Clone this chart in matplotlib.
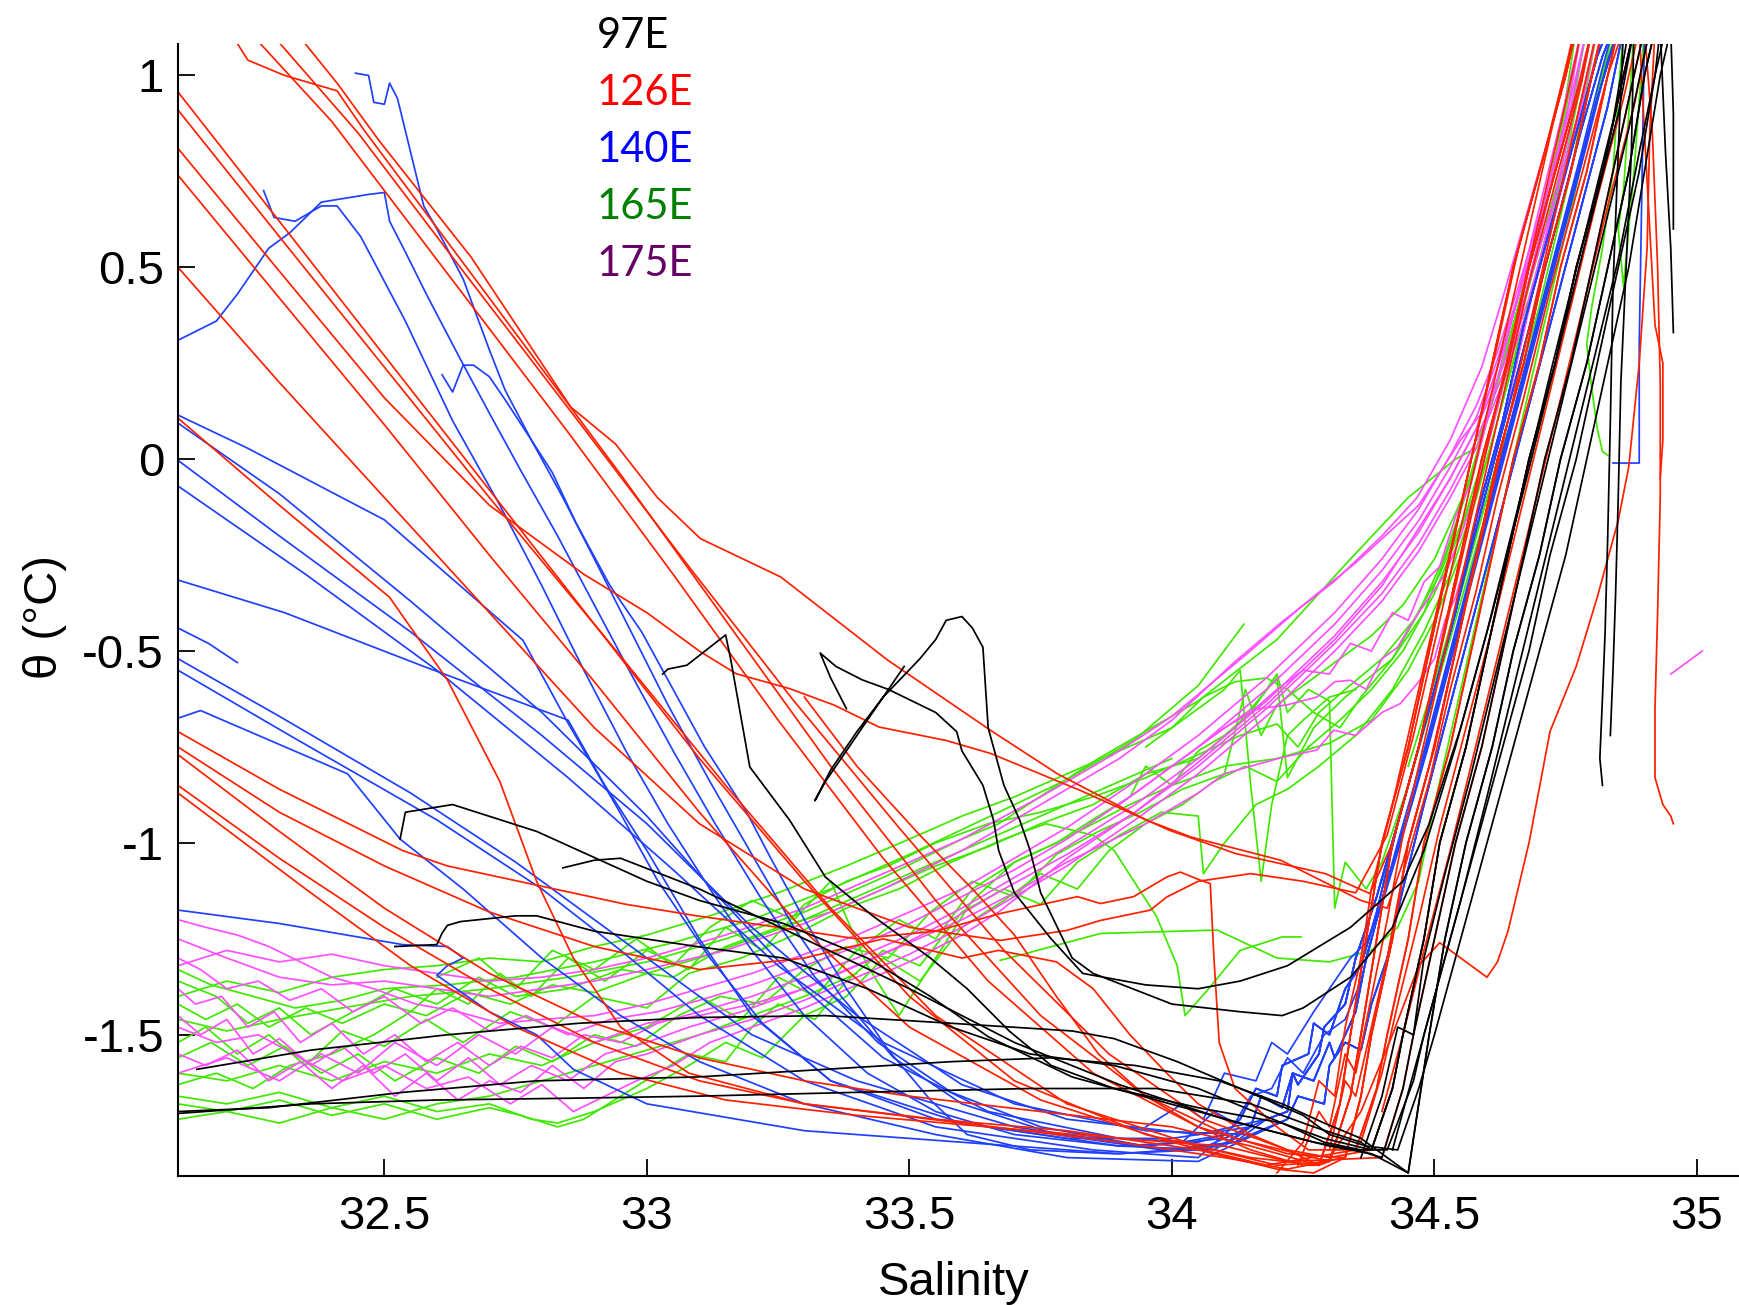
import matplotlib
matplotlib.use('Agg')
import matplotlib.pyplot as plt

# ---------------- deep-water branches (S, theta) read from the bundle on the right ----------------
TAIL_1 = [(34.28,-1.84),(34.32,-1.68),(34.34,-1.50),(34.37,-1.25),(34.40,-1.00),(34.45,-0.75),(34.49,-0.50),(34.53,-0.25),(34.57,0.00),(34.61,0.25),(34.65,0.50),(34.70,0.75),(34.75,1.00),(34.77,1.12)]
TAIL_2 = [(34.30,-1.83),(34.34,-1.66),(34.36,-1.50),(34.39,-1.25),(34.42,-1.00),(34.47,-0.75),(34.51,-0.50),(34.55,-0.25),(34.59,0.00),(34.64,0.25),(34.68,0.50),(34.73,0.75),(34.78,1.00),(34.80,1.12)]
TAIL_3 = [(34.33,-1.82),(34.36,-1.66),(34.38,-1.50),(34.42,-1.25),(34.45,-1.00),(34.50,-0.75),(34.54,-0.50),(34.58,-0.25),(34.62,0.00),(34.67,0.25),(34.71,0.50),(34.76,0.75),(34.80,1.00),(34.82,1.12)]
TAIL_4 = [(34.35,-1.80),(34.39,-1.64),(34.41,-1.50),(34.45,-1.25),(34.48,-1.00),(34.53,-0.75),(34.57,-0.50),(34.61,-0.25),(34.65,0.00),(34.70,0.25),(34.74,0.50),(34.79,0.75),(34.83,1.00),(34.85,1.12)]
TAIL_5 = [(34.38,-1.80),(34.42,-1.64),(34.44,-1.50),(34.48,-1.25),(34.51,-1.00),(34.56,-0.75),(34.60,-0.50),(34.64,-0.25),(34.68,0.00),(34.73,0.25),(34.77,0.50),(34.82,0.75),(34.86,1.00),(34.88,1.12)]
TAIL_6 = [(34.40,-1.82),(34.44,-1.64),(34.46,-1.50),(34.50,-1.25),(34.54,-1.00),(34.59,-0.75),(34.63,-0.50),(34.67,-0.25),(34.71,0.00),(34.76,0.25),(34.80,0.50),(34.84,0.75),(34.88,1.00),(34.90,1.12)]
TAIL_7 = [(34.45,-1.86),(34.47,-1.68),(34.49,-1.50),(34.52,-1.25),(34.56,-1.00),(34.61,-0.75),(34.65,-0.50),(34.70,-0.25),(34.74,0.00),(34.79,0.25),(34.83,0.50),(34.87,0.75),(34.90,1.00),(34.92,1.12)]
TAIL_8 = [(34.41,-1.80),(34.46,-1.62),(34.48,-1.50),(34.53,-1.25),(34.58,-1.00),(34.63,-0.75),(34.68,-0.50),(34.72,-0.25),(34.77,0.00),(34.81,0.25),(34.85,0.50),(34.89,0.75),(34.92,1.00),(34.94,1.12)]
TAIL_9 = [(34.43,-1.80),(34.47,-1.64),(34.50,-1.50),(34.55,-1.25),(34.60,-1.00),(34.65,-0.75),(34.70,-0.50),(34.75,-0.25),(34.79,0.00),(34.83,0.25),(34.87,0.50),(34.90,0.75),(34.93,1.00),(34.95,1.12)]
BTAIL_1 = [(34.15,-1.74),(34.17,-1.66),(34.21,-1.69),(34.23,-1.60),(34.24,-1.63),(34.28,-1.55),(34.29,-1.48),(34.33,-1.42),(34.35,-1.30),(34.39,-1.14),(34.44,-0.90),(34.49,-0.65),(34.54,-0.40),(34.58,-0.15),(34.63,0.10),(34.67,0.35),(34.72,0.60),(34.77,0.85),(34.81,1.05),(34.83,1.12)]
BTAIL_2 = [(34.10,-1.76),(34.13,-1.72),(34.16,-1.64),(34.20,-1.66),(34.21,-1.58),(34.26,-1.55),(34.27,-1.47),(34.30,-1.50),(34.33,-1.38),(34.36,-1.32),(34.39,-1.18),(34.43,-0.95),(34.48,-0.70),(34.53,-0.45),(34.58,-0.18),(34.63,0.08),(34.68,0.34),(34.73,0.60),(34.78,0.86),(34.82,1.05),(34.84,1.12)]
BTAIL_3 = [(34.18,-1.72),(34.22,-1.70),(34.23,-1.60),(34.27,-1.62),(34.30,-1.52),(34.31,-1.56),(34.35,-1.44),(34.37,-1.30),(34.41,-1.10),(34.46,-0.88),(34.51,-0.62),(34.56,-0.36),(34.61,-0.10),(34.66,0.16),(34.71,0.42),(34.76,0.68),(34.81,0.94),(34.85,1.12)]
BTAIL_4 = [(34.22,-1.72),(34.24,-1.66),(34.29,-1.68),(34.30,-1.58),(34.33,-1.52),(34.36,-1.54),(34.38,-1.42),(34.41,-1.30),(34.44,-1.12),(34.48,-0.90),(34.53,-0.64),(34.58,-0.38),(34.63,-0.12),(34.68,0.14),(34.73,0.40),(34.78,0.66),(34.83,0.92),(34.86,1.12)]

# ---------------- 126E (red) ----------------
RED_PROFILES = [
    [(32.217,1.09),(32.24,1.04),(32.31,1.00),(32.41,0.96),(32.46,0.86),(32.70,0.42),(32.95,-0.04),(33.15,-0.42),(33.35,-0.80),(33.55,-1.15),(33.75,-1.45),(33.95,-1.66),(34.12,-1.77)] + TAIL_2,
    [(32.259,1.09),(32.40,0.88),(32.60,0.52),(32.85,0.07),(33.05,-0.30),(33.25,-0.68),(33.45,-1.04),(33.65,-1.36),(33.85,-1.60),(34.05,-1.74),(34.22,-1.81)] + TAIL_3,
    [(32.297,1.09),(32.45,0.85),(32.65,0.49),(32.88,0.08),(33.08,-0.28),(33.28,-0.63),(33.48,-0.96),(33.68,-1.28),(33.88,-1.55),(34.06,-1.72),(34.22,-1.80)] + TAIL_1,
    [(32.345,1.09),(32.41,0.98),(32.49,0.83),(32.665,0.527),(32.855,0.136),(32.94,0.04),(33.02,-0.10),(33.102,-0.207),(33.255,-0.307),(33.459,-0.524),(33.655,-0.707),(33.782,-0.82),(33.952,-0.941),(34.037,-0.985),(34.207,-1.045),(34.36,-1.15),(34.41,-1.17),
     (34.44,-1.05),(34.49,-0.80),(34.54,-0.50),(34.59,-0.20),(34.64,0.10),(34.69,0.40),(34.74,0.70),(34.79,1.00),(34.81,1.12)],
    [(32.107,0.957),(32.30,0.62),(32.50,0.27),(32.70,-0.08),(32.90,-0.43),(33.10,-0.78),(33.30,-1.10),(33.50,-1.40),(33.70,-1.62),(33.95,-1.76),(34.15,-1.82)] + TAIL_1,
    [(32.107,0.91),(32.30,0.58),(32.50,0.24),(32.70,-0.10),(32.93,-0.48),(33.15,-0.85),(33.35,-1.17),(33.55,-1.45),(33.80,-1.68),(34.05,-1.79),(34.20,-1.84)] + TAIL_2,
    [(32.107,0.81),(32.30,0.49),(32.50,0.16),(32.70,-0.12),(32.88,-0.30),(33.00,-0.40),(33.10,-0.50),(33.17,-0.559),(33.272,-0.598),(33.357,-0.641),(33.442,-0.698),(33.57,-0.733),(33.655,-0.767),(33.825,-0.863),(33.995,-0.967),(34.122,-1.028),(34.292,-1.08),(34.377,-1.132),
     (34.42,-1.00),(34.47,-0.75),(34.52,-0.45),(34.57,-0.15),(34.62,0.15),(34.67,0.45),(34.72,0.75),(34.77,1.05),(34.78,1.12)],
    [(32.107,0.74),(32.30,0.42),(32.50,0.09),(32.70,-0.25),(32.90,-0.58),(33.10,-0.92),(33.30,-1.23),(33.50,-1.48),(33.75,-1.67),(34.00,-1.78),(34.18,-1.84)] + TAIL_4,
    [(32.107,0.50),(32.30,0.20),(32.50,-0.10),(32.70,-0.40),(32.90,-0.70),(33.10,-0.95),(33.30,-1.12),(33.50,-1.22),(33.673,-1.254),(33.80,-1.228),(33.864,-1.202),(33.959,-1.175),(33.99,-1.141),(34.05,-1.10),(34.15,-1.08),(34.25,-1.10),(34.35,-1.13),
     (34.41,-0.98),(34.46,-0.72),(34.51,-0.42),(34.56,-0.12),(34.61,0.18),(34.66,0.48),(34.71,0.78),(34.76,1.08),(34.77,1.12)],
    [(32.107,0.107),(32.30,-0.12),(32.51,-0.36),(32.62,-0.575),(32.72,-0.84),(32.79,-1.10),(32.86,-1.30),(32.95,-1.48),(33.08,-1.60),(33.30,-1.68),(33.60,-1.73),(33.90,-1.78),(34.10,-1.82),(34.22,-1.85)] + TAIL_3,
    [(32.107,-0.71),(32.30,-0.86),(32.535,-1.02),(32.62,-1.06),(32.79,-1.11),(32.96,-1.16),(33.095,-1.19),(33.25,-1.22),(33.40,-1.25),(33.55,-1.23),(33.673,-1.184),(33.82,-1.14),(33.864,-1.158),(33.927,-1.14),(33.99,-1.089),(34.016,-1.076),(34.054,-1.097),(34.073,-1.106),(34.08,-1.30),(34.09,-1.52),(34.12,-1.64),(34.20,-1.74),(34.26,-1.80)] + TAIL_4,
    [(32.107,-0.75),(32.30,-0.92),(32.50,-1.06),(32.70,-1.18),(32.90,-1.27),(33.10,-1.33),(33.30,-1.30),(33.45,-1.25),(33.60,-1.30),(33.67,-1.28),(33.78,-1.31),(33.85,-1.38),(33.92,-1.50),(33.99,-1.60),(34.05,-1.68),(34.10,-1.72),(34.15,-1.76),(34.22,-1.80),(34.30,-1.82)] + TAIL_5,
    [(32.107,-0.77),(32.30,-0.97),(32.50,-1.17),(32.70,-1.34),(32.90,-1.47),(33.10,-1.56),(33.30,-1.62),(33.50,-1.66),(33.75,-1.70),(34.00,-1.74),(34.15,-1.79),(34.28,-1.84)] + TAIL_2,
    [(32.107,-0.85),(32.30,-1.04),(32.50,-1.22),(32.70,-1.38),(32.90,-1.52),(33.10,-1.62),(33.30,-1.68),(33.55,-1.72),(33.80,-1.75),(34.05,-1.80),(34.20,-1.85),(34.27,-1.86)] + TAIL_3,
    [(32.107,-0.87),(32.35,-1.12),(32.55,-1.32),(32.75,-1.48),(32.95,-1.60),(33.15,-1.67),(33.40,-1.71),(33.65,-1.74),(33.90,-1.77),(34.10,-1.79),(34.22,-1.83)] + TAIL_6,
    [(33.30,-0.62),(33.40,-0.80),(33.52,-0.98),(33.62,-1.12),(33.70,-1.24),(33.78,-1.40),(33.86,-1.55),(33.95,-1.66),(34.05,-1.74),(34.15,-1.80),(34.25,-1.84)] + TAIL_1,
    [(34.30,-1.82),(34.36,-1.70),(34.42,-1.50),(34.47,-1.32),(34.51,-1.26),(34.55,-1.30),(34.58,-1.33),(34.60,-1.35),(34.62,-1.31),(34.64,-1.23),(34.68,-1.00),(34.72,-0.71),(34.77,-0.54),(34.81,-0.36),(34.85,-0.16),(34.87,-0.02),(34.89,0.25),(34.905,0.55),(34.91,0.85),(34.92,1.12)],
    [(34.90,1.12),(34.915,0.85),(34.925,0.50),(34.93,0.20),(34.93,-0.10),(34.925,-0.40),(34.92,-0.65),(34.92,-0.83),(34.935,-0.90),(34.95,-0.93),(34.955,-0.95)],
    [(34.89,1.12),(34.90,0.85),(34.91,0.60),(34.92,0.35),(34.935,0.25),(34.935,0.05),(34.93,-0.05)],
    [(34.20,-1.86),(34.25,-1.78),(34.28,-1.62),(34.31,-1.66),(34.33,-1.48),(34.36,-1.30),(34.38,-1.12),(34.42,-0.90),(34.46,-0.66),(34.50,-0.42),(34.54,-0.18),(34.58,0.06),(34.62,0.30),(34.66,0.55),(34.71,0.80),(34.75,1.02),(34.77,1.12)],
    [(34.24,-1.84),(34.28,-1.70),(34.30,-1.74),(34.33,-1.55),(34.35,-1.60),(34.38,-1.40),(34.41,-1.20),(34.44,-0.98),(34.48,-0.74),(34.52,-0.50),(34.56,-0.26),(34.60,-0.02),(34.64,0.22),(34.68,0.46),(34.73,0.72),(34.78,0.98),(34.80,1.12)],
    [(34.30,-1.80),(34.33,-1.62),(34.35,-1.66),(34.38,-1.48),(34.41,-1.30),(34.44,-1.08),(34.49,-0.84),(34.53,-0.60),(34.58,-0.34),(34.62,-0.10),(34.67,0.16),(34.72,0.44),(34.78,0.74),(34.83,1.00),(34.86,1.12)],
    [(34.36,-1.78),(34.40,-1.60),(34.43,-1.42),(34.47,-1.20),(34.51,-0.96),(34.56,-0.70),(34.61,-0.44),(34.66,-0.16),(34.71,0.12),(34.76,0.40),(34.81,0.68),(34.86,0.94),(34.89,1.12)],
    [(34.40,-1.70),(34.44,-1.50),(34.48,-1.28),(34.53,-1.02),(34.58,-0.74),(34.63,-0.46),(34.68,-0.18),(34.73,0.10),(34.78,0.38),(34.83,0.66),(34.88,0.92),(34.91,1.12)],
]

# ---------------- 140E (blue) ----------------
BLUE_PROFILES = [
    [(32.445,1.006),(32.47,1.00),(32.48,0.93),(32.50,0.925),(32.51,0.98),(32.525,0.94),(32.575,0.66),(32.60,0.60),(32.65,0.47),(32.70,0.285),(32.73,0.18),(32.78,0.05),(32.82,-0.035),(32.865,-0.166),(32.93,-0.33),(32.99,-0.45),(33.04,-0.575),(33.11,-0.75),(33.19,-0.92),(33.236,-1.04),(33.30,-1.20),(33.38,-1.38),(33.46,-1.54),(33.54,-1.67),(33.61,-1.76),(33.73,-1.80),(33.89,-1.81),(34.05,-1.80)] + BTAIL_1,
    [(32.27,0.70),(32.29,0.63),(32.33,0.62),(32.38,0.66),(32.41,0.66),(32.455,0.58),(32.54,0.36),(32.63,0.10),(32.72,-0.12),(32.80,-0.33),(32.88,-0.55),(32.96,-0.76),(33.04,-0.95),(33.12,-1.12),(33.20,-1.28),(33.30,-1.45),(33.42,-1.60),(33.55,-1.70),(33.70,-1.76),(33.90,-1.79),(34.02,-1.78)] + BTAIL_2,
    [(32.107,0.31),(32.18,0.36),(32.22,0.43),(32.28,0.55),(32.32,0.59),(32.38,0.67),(32.47,0.69),(32.50,0.695),(32.51,0.62),(32.54,0.54),(32.58,0.43),(32.645,0.26),(32.70,0.12),(32.76,-0.03),(32.83,-0.20),(32.90,-0.38),(32.97,-0.56),(33.05,-0.76),(33.13,-0.95),(33.22,-1.15),(33.32,-1.35),(33.44,-1.52),(33.58,-1.65),(33.75,-1.74),(33.95,-1.79),(34.10,-1.77)] + BTAIL_3,
    [(32.61,0.22),(32.63,0.175),(32.65,0.245),(32.67,0.245),(32.70,0.215),(32.73,0.155),(32.78,0.05),(32.84,-0.10),(32.90,-0.26),(32.97,-0.45),(33.04,-0.64),(33.12,-0.84),(33.20,-1.03),(33.28,-1.22),(33.37,-1.40),(33.47,-1.56),(33.60,-1.68),(33.78,-1.76),(33.98,-1.80),(34.12,-1.78)] + BTAIL_4,
    [(32.107,0.115),(32.239,0.029),(32.50,-0.158),(32.764,-0.472),(32.85,-0.688),(32.946,-0.914),(33.02,-1.097),(33.12,-1.30),(33.22,-1.47),(33.35,-1.62),(33.55,-1.72),(33.80,-1.77),(34.00,-1.77),(34.10,-1.75)] + BTAIL_1,
    [(32.107,0.094),(32.30,-0.09),(32.55,-0.37),(32.80,-0.66),(33.00,-0.93),(33.15,-1.16),(33.30,-1.38),(33.45,-1.56),(33.65,-1.70),(33.90,-1.77),(34.05,-1.78)] + BTAIL_2,
    [(32.107,-0.003),(32.30,-0.20),(32.55,-0.45),(32.80,-0.72),(33.00,-0.95),(33.20,-1.22),(33.40,-1.45),(33.60,-1.63),(33.80,-1.72),(34.05,-1.76)] + BTAIL_3,
    [(32.107,-0.07),(32.35,-0.30),(32.60,-0.55),(32.85,-0.83),(33.05,-1.07),(33.25,-1.32),(33.45,-1.52),(33.70,-1.68),(33.95,-1.75),(34.15,-1.76)] + BTAIL_4,
    [(32.107,-0.315),(32.31,-0.40),(32.575,-0.54),(32.85,-0.68),(32.92,-0.85),(33.00,-1.02),(33.10,-1.25),(33.20,-1.45),(33.35,-1.62),(33.60,-1.73),(33.90,-1.79),(34.08,-1.80)] + BTAIL_1,
    [(32.107,-0.44),(32.165,-0.48),(32.22,-0.53)],
    [(32.107,-0.52),(32.30,-0.67),(32.55,-0.87),(32.75,-1.05),(32.90,-1.20),(33.05,-1.35),(33.20,-1.50),(33.40,-1.62),(33.70,-1.74),(34.00,-1.80),(34.12,-1.78)] + BTAIL_3,
    [(32.107,-0.55),(32.32,-0.72),(32.60,-0.94),(32.80,-1.12),(32.95,-1.28),(33.10,-1.45),(33.30,-1.62),(33.55,-1.74),(33.85,-1.80),(34.05,-1.82)] + BTAIL_2,
    [(32.107,-0.675),(32.15,-0.655),(32.43,-0.82),(32.53,-0.99),(32.65,-1.12),(32.80,-1.30),(32.95,-1.45),(33.10,-1.57),(33.30,-1.68),(33.55,-1.76),(33.80,-1.82),(34.05,-1.83)] + BTAIL_4,
    [(32.107,-1.175),(32.30,-1.21),(32.535,-1.265),(32.62,-1.27),(32.65,-1.30),(32.62,-1.32),(32.60,-1.345),(32.70,-1.44),(32.79,-1.50),(32.86,-1.59),(33.00,-1.68),(33.30,-1.75),(33.60,-1.78),(33.90,-1.81),(34.10,-1.79)] + BTAIL_1,
    [(33.95,-1.74),(34.02,-1.68),(34.06,-1.72),(34.10,-1.60),(34.16,-1.62),(34.19,-1.52),(34.22,-1.55),(34.27,-1.44),(34.31,-1.36),(34.34,-1.30),(34.37,-1.26),(34.40,-1.16),(34.44,-0.98),(34.49,-0.74),(34.54,-0.48),(34.59,-0.22),(34.64,0.04),(34.69,0.30),(34.74,0.56),(34.79,0.82),(34.83,1.04),(34.85,1.12)],
    [(34.02,-1.78),(34.08,-1.70),(34.12,-1.73),(34.15,-1.66),(34.19,-1.64),(34.22,-1.56),(34.25,-1.60),(34.29,-1.50),(34.33,-1.46),(34.36,-1.36),(34.39,-1.20),(34.43,-1.00),(34.48,-0.76),(34.53,-0.50),(34.58,-0.24),(34.63,0.02),(34.68,0.28),(34.73,0.54),(34.78,0.80),(34.82,1.02),(34.84,1.12)],
    [(34.90,1.12),(34.895,0.70),(34.89,0.30),(34.89,-0.01),(34.84,-0.01)],
]

# ---------------- 97E (black) ----------------
BLACK_PROFILES = [
    [(33.03,-0.56),(33.04,-0.547),(33.076,-0.537),(33.15,-0.458),(33.16,-0.524),(33.196,-0.802),(33.272,-0.941),(33.34,-1.089),(33.43,-1.19),(33.54,-1.30),(33.61,-1.38),(33.69,-1.49),(33.77,-1.58),(33.89,-1.64),(34.05,-1.69),(34.21,-1.73),(34.29,-1.77),(34.35,-1.79)] + TAIL_5,
    [(33.38,-0.65),(33.35,-0.57),(33.33,-0.505),(33.36,-0.54),(33.41,-0.575),(33.46,-0.60),(33.49,-0.62),(33.55,-0.66),(33.59,-0.71),(33.60,-0.76),(33.64,-0.85),(33.66,-0.94),(33.67,-1.02),(33.70,-1.13),(33.77,-1.25),(33.83,-1.34),(33.95,-1.37),(34.05,-1.38),(34.13,-1.36),(34.22,-1.32),(34.34,-1.22),(34.44,-1.10),(34.49,-0.95),(34.55,-0.70),(34.61,-0.40),(34.67,-0.08),(34.73,0.25),(34.79,0.58),(34.85,0.90),(34.88,1.12)],
    [(33.49,-0.54),(33.44,-0.64),(33.39,-0.74),(33.34,-0.84),(33.32,-0.89),(33.35,-0.81),(33.40,-0.71),(33.45,-0.62),(33.52,-0.52),(33.55,-0.47),(33.57,-0.42),(33.60,-0.41),(33.62,-0.44),(33.64,-0.49),(33.65,-0.70),(33.68,-0.85),(33.71,-0.94),(33.73,-1.02),(33.75,-1.13),(33.81,-1.30),(33.85,-1.34),(34.00,-1.42),(34.13,-1.44),(34.21,-1.45),(34.25,-1.43),(34.34,-1.35),(34.42,-1.22),(34.48,-1.02),(34.54,-0.75),(34.60,-0.45),(34.66,-0.12),(34.72,0.22),(34.78,0.55),(34.84,0.88),(34.87,1.12)],
    [(32.53,-0.99),(32.54,-0.92),(32.63,-0.90),(32.79,-0.97),(33.00,-1.10),(33.10,-1.15),(33.26,-1.21),(33.42,-1.30),(33.54,-1.40),(33.65,-1.505),(33.81,-1.61),(33.97,-1.67),(34.13,-1.73),(34.27,-1.78),(34.35,-1.80)] + TAIL_6,
    [(32.84,-1.065),(32.90,-1.045),(32.95,-1.04),(33.10,-1.12),(33.30,-1.25),(33.50,-1.38),(33.70,-1.52),(33.90,-1.63),(34.10,-1.72),(34.30,-1.79),(34.38,-1.81)] + TAIL_7,
    [(32.52,-1.27),(32.60,-1.265),(32.61,-1.235),(32.62,-1.215),(32.645,-1.205),(32.75,-1.19),(32.79,-1.19),(32.90,-1.23),(33.095,-1.27),(33.26,-1.30),(33.42,-1.38),(33.58,-1.48),(33.73,-1.55),(33.89,-1.58),(34.05,-1.64),(34.21,-1.73),(34.29,-1.78),(34.36,-1.80)] + TAIL_8,
    [(32.143,-1.59),(32.36,-1.54),(32.62,-1.50),(32.87,-1.47),(33.095,-1.455),(33.34,-1.45),(33.58,-1.47),(33.81,-1.49),(33.89,-1.51),(34.01,-1.57),(34.13,-1.64),(34.25,-1.71),(34.30,-1.76),(34.37,-1.79)] + TAIL_9,
    [(32.107,-1.70),(32.28,-1.69),(32.535,-1.65),(32.79,-1.62),(33.095,-1.61),(33.34,-1.59),(33.58,-1.57),(33.77,-1.56),(33.93,-1.58),(34.09,-1.62),(34.21,-1.68),(34.29,-1.73),(34.36,-1.77)] + TAIL_7,
    [(32.107,-1.705),(32.36,-1.68),(32.60,-1.67),(32.87,-1.665),(33.095,-1.66),(33.40,-1.65),(33.73,-1.64),(33.97,-1.64),(34.15,-1.68),(34.27,-1.74),(34.36,-1.78)] + TAIL_5,
    [(34.36,-1.82),(34.40,-1.66),(34.43,-1.48),(34.46,-1.50),(34.48,-1.30),(34.52,-1.08),(34.57,-0.82),(34.62,-0.54),(34.67,-0.26),(34.72,0.02),(34.77,0.30),(34.82,0.58),(34.87,0.86),(34.91,1.12)],
    [(34.42,-1.80),(34.46,-1.60),(34.50,-1.40),(34.55,-1.15),(34.60,-0.88),(34.65,-0.60),(34.70,-0.32),(34.75,-0.04),(34.80,0.24),(34.85,0.52),(34.89,0.80),(34.92,1.00),(34.93,1.12)],
    [(34.93,1.12),(34.94,0.80),(34.95,0.55),(34.955,0.33)],
    [(34.95,1.12),(34.955,0.90),(34.955,0.60)],
    [(34.86,1.12),(34.85,0.80),(34.84,0.45),(34.835,0.10),(34.83,-0.20),(34.825,-0.45),(34.82,-0.62),(34.815,-0.78),(34.82,-0.85)],
    [(34.88,1.12),(34.875,0.80),(34.865,0.50),(34.855,0.20),(34.85,-0.10),(34.845,-0.35),(34.84,-0.55),(34.835,-0.72)],
]

# ---------------- 165E (green) ----------------
GREEN_PROFILES = [
    [(32.107,-1.33),(32.17,-1.37),(32.25,-1.40),(32.33,-1.43),(32.42,-1.41),(32.50,-1.38),(32.62,-1.37),(32.75,-1.35),(32.90,-1.31),(33.05,-1.26),(33.20,-1.20),(33.35,-1.12),(33.50,-1.03),(33.67,-0.92),(33.80,-0.835),(33.93,-0.73),(34.05,-0.59),(34.137,-0.43)],
    [(32.107,-1.46),(32.20,-1.49),(32.30,-1.46),(32.42,-1.43),(32.55,-1.40),(32.70,-1.38),(32.85,-1.35),(33.00,-1.31),(33.15,-1.25),(33.30,-1.18),(33.45,-1.09),(33.60,-0.99),(33.67,-0.95),(33.86,-0.78),(34.05,-0.63),(34.20,-0.47),(34.34,-0.26),(34.45,-0.10),(34.54,0.00),(34.58,0.03),(34.63,0.25),(34.69,0.55),(34.74,0.85),(34.77,1.12)],
    [(32.107,-1.36),(32.18,-1.40),(32.24,-1.47),(32.30,-1.43),(32.36,-1.50),(32.44,-1.44),(32.52,-1.38),(32.60,-1.42),(32.68,-1.35),(32.75,-1.40),(32.85,-1.38),(32.95,-1.33),(33.05,-1.35),(33.15,-1.27),(33.25,-1.22),(33.35,-1.18),(33.45,-1.12),(33.55,-1.06),(33.65,-1.01),(33.75,-0.95),(33.85,-0.90),(33.95,-0.82),(34.05,-0.78),(34.12,-0.70),(34.20,-0.57),(34.22,-0.83),(34.27,-0.70),(34.33,-0.62),(34.42,-0.52),(34.48,-0.40),(34.53,-0.22),(34.58,0.00),(34.65,0.35),(34.72,0.70),(34.78,1.12)],
    [(32.107,-1.52),(32.16,-1.48),(32.22,-1.55),(32.28,-1.50),(32.35,-1.58),(32.42,-1.49),(32.50,-1.53),(32.58,-1.46),(32.65,-1.52),(32.74,-1.44),(32.82,-1.48),(32.90,-1.40),(33.00,-1.43),(33.08,-1.34),(33.18,-1.30),(33.28,-1.24),(33.38,-1.17),(33.48,-1.12),(33.58,-1.05),(33.68,-0.99),(33.76,-0.95),(33.85,-0.98),(33.89,-1.02),(33.93,-1.105),(33.97,-1.19),(34.01,-1.32),(34.025,-1.45),(34.07,-1.38),(34.13,-1.28),(34.21,-1.245),(34.246,-1.245)],
    [(32.107,-1.60),(32.20,-1.62),(32.30,-1.58),(32.40,-1.62),(32.50,-1.57),(32.60,-1.60),(32.70,-1.55),(32.80,-1.58),(32.90,-1.52),(33.00,-1.48),(33.10,-1.40),(33.18,-1.46),(33.25,-1.35),(33.32,-1.40),(33.40,-1.28),(33.48,-1.20),(33.55,-1.25),(33.62,-1.12),(33.70,-1.05),(33.78,-1.00),(33.86,-0.93),(33.92,-0.88),(33.95,-0.80),(34.00,-0.85),(34.05,-0.76),(34.10,-0.72),(34.15,-0.66),(34.18,-0.60),(34.20,-0.56),(34.22,-0.66),(34.26,-0.60),(34.30,-0.63),(34.31,-1.17),(34.33,-1.05),(34.37,-1.12),(34.40,-1.05),(34.45,-0.85),(34.50,-0.60),(34.56,-0.30),(34.62,0.00),(34.70,0.40),(34.76,0.75),(34.81,1.12)],
    [(32.107,-1.66),(32.20,-1.68),(32.30,-1.65),(32.40,-1.69),(32.50,-1.66),(32.60,-1.70),(32.70,-1.68),(32.78,-1.72),(32.83,-1.73),(32.90,-1.70),(33.00,-1.64),(33.08,-1.58),(33.15,-1.52),(33.22,-1.56),(33.30,-1.45),(33.38,-1.40),(33.45,-1.30),(33.52,-1.36),(33.60,-1.22),(33.68,-1.15),(33.75,-1.08),(33.82,-1.12),(33.88,-1.02),(33.95,-0.95),(34.02,-0.90),(34.08,-0.84),(34.14,-0.80),(34.20,-0.84),(34.26,-0.75),(34.32,-0.68),(34.38,-0.60),(34.44,-0.50),(34.50,-0.35),(34.56,-0.15),(34.60,0.00),(34.66,0.30),(34.73,0.65),(34.80,1.12)],
    [(32.107,-1.40),(32.20,-1.36),(32.30,-1.39),(32.40,-1.35),(32.50,-1.33),(32.60,-1.32),(32.70,-1.30),(32.80,-1.31),(32.90,-1.27),(33.00,-1.24),(33.12,-1.19),(33.25,-1.13),(33.38,-1.06),(33.50,-0.99),(33.60,-0.93),(33.70,-0.88),(33.80,-0.82),(33.90,-0.76),(34.00,-0.70),(34.06,-0.62),(34.12,-0.58),(34.18,-0.57),(34.22,-0.60),(34.27,-0.66),(34.32,-0.70),(34.36,-0.62),(34.42,-0.52),(34.47,-0.40),(34.52,-0.25),(34.57,-0.05),(34.63,0.25),(34.70,0.60),(34.76,0.90),(34.79,1.12)],
    [(32.107,-1.63),(32.18,-1.60),(32.25,-1.64),(32.32,-1.58),(32.40,-1.55),(32.48,-1.50),(32.55,-1.44),(32.60,-1.38),(32.66,-1.42),(32.72,-1.34),(32.78,-1.40),(32.85,-1.30),(32.92,-1.36),(33.00,-1.28),(33.08,-1.33),(33.15,-1.22),(33.22,-1.28),(33.30,-1.16),(33.38,-1.10),(33.46,-1.06),(33.55,-1.00),(33.65,-0.95),(33.75,-0.92),(33.85,-0.88),(33.95,-0.83),(34.05,-0.77),(34.13,-0.72),(34.20,-0.69),(34.24,-0.75),(34.28,-0.66),(34.33,-0.60),(34.40,-0.52),(34.46,-0.42),(34.51,-0.30),(34.56,-0.14),(34.61,0.08),(34.67,0.40),(34.74,0.75),(34.80,1.12)],
    [(32.107,-1.68),(32.20,-1.70),(32.30,-1.67),(32.40,-1.71),(32.50,-1.68),(32.60,-1.72),(32.70,-1.69),(32.76,-1.71),(32.83,-1.74),(32.88,-1.72),(32.95,-1.66),(33.02,-1.60),(33.08,-1.55),(33.15,-1.57),(33.20,-1.48),(33.25,-1.42),(33.32,-1.46),(33.38,-1.36),(33.45,-1.28),(33.52,-1.32),(33.60,-1.18),(33.68,-1.12),(33.75,-1.16),(33.82,-1.05),(33.90,-0.98),(33.98,-0.92),(34.05,-0.93),(34.06,-1.08),(34.10,-1.00),(34.16,-0.90),(34.22,-0.86),(34.28,-0.80),(34.35,-0.72),(34.42,-0.60),(34.48,-0.45),(34.53,-0.30),(34.58,-0.10),(34.63,0.15),(34.70,0.52),(34.77,0.88),(34.81,1.12)],
    [(32.60,-1.35),(32.68,-1.30),(32.75,-1.38),(32.82,-1.28),(32.90,-1.33),(32.98,-1.25),(33.05,-1.32),(33.12,-1.22),(33.20,-1.15),(33.28,-1.20),(33.35,-1.10),(33.42,-1.32),(33.48,-1.45),(33.55,-1.30),(33.62,-1.15),(33.70,-1.05),(33.78,-1.00),(33.85,-0.95),(33.92,-0.90),(34.00,-0.85),(34.10,-0.80),(34.20,-0.78),(34.30,-0.74),(34.38,-0.68),(34.45,-0.55),(34.50,-0.42),(34.55,-0.25)],
    [(32.107,-1.42),(32.16,-1.46),(32.22,-1.42),(32.28,-1.48),(32.35,-1.43),(32.42,-1.47),(32.50,-1.42),(32.58,-1.45),(32.66,-1.39),(32.74,-1.42),(32.82,-1.37),(32.90,-1.39),(33.00,-1.34),(33.10,-1.30),(33.20,-1.25),(33.30,-1.20),(33.40,-1.14),(33.50,-1.08),(33.60,-1.02),(33.70,-0.96),(33.80,-0.90),(33.90,-0.84),(34.00,-0.78)],
    [(32.107,-1.56),(32.17,-1.52),(32.24,-1.58),(32.31,-1.53),(32.38,-1.60),(32.45,-1.55),(32.52,-1.62),(32.60,-1.56),(32.68,-1.60),(32.75,-1.53),(32.82,-1.57),(32.90,-1.50),(32.98,-1.53),(33.06,-1.45),(33.14,-1.40),(33.22,-1.42),(33.30,-1.33),(33.38,-1.27),(33.46,-1.30),(33.54,-1.18),(33.62,-1.10),(33.70,-1.14),(33.78,-1.03),(33.86,-0.97),(33.94,-0.92),(34.02,-0.86),(34.10,-0.82),(34.14,-0.60),(34.17,-0.72),(34.20,-0.64),(34.26,-0.58),(34.32,-0.52),(34.38,-0.46),(34.44,-0.38),(34.50,-0.26),(34.56,-0.08),(34.61,0.15),(34.67,0.45),(34.73,0.75),(34.78,1.00),(34.80,1.12)],
    [(32.107,-1.72),(32.20,-1.70),(32.30,-1.73),(32.40,-1.69),(32.50,-1.72),(32.60,-1.68),(32.70,-1.66),(32.80,-1.62),(32.90,-1.58),(33.00,-1.54),(33.10,-1.50),(33.20,-1.45),(33.30,-1.40),(33.40,-1.34)],
    [(33.95,-0.75),(34.00,-0.70),(34.05,-0.65),(34.10,-0.60),(34.13,-0.55),(34.15,-0.85),(34.17,-1.10),(34.19,-0.90),(34.22,-0.72),(34.25,-0.68),(34.30,-0.62),(34.35,-0.60)],
    [(33.673,-1.306),(33.864,-1.236),(34.086,-1.227),(34.20,-1.30),(34.30,-1.31),(34.38,-1.28),(34.43,-1.22),(34.47,-1.10),(34.50,-0.90),(34.55,-0.60),(34.60,-0.30),(34.65,0.00),(34.70,0.30),(34.76,0.65),(34.81,0.95),(34.84,1.12)],
    [(34.40,-1.10),(34.44,-0.90),(34.49,-0.66),(34.54,-0.42),(34.59,-0.18),(34.64,0.06),(34.69,0.32),(34.74,0.58),(34.79,0.84),(34.83,1.05),(34.85,1.12)],
    [(34.45,-0.80),(34.50,-0.58),(34.55,-0.34),(34.60,-0.10),(34.66,0.16),(34.71,0.42),(34.76,0.68),(34.81,0.94),(34.84,1.12)],
    [(34.86,1.12),(34.85,0.95),(34.84,0.75),(34.82,0.55),(34.80,0.40),(34.79,0.30),(34.80,0.18),(34.81,0.08),(34.82,0.02),(34.83,0.01)],
    [(34.88,1.12),(34.87,0.90),(34.86,0.70),(34.85,0.60),(34.86,0.45),(34.87,0.60),(34.88,0.75),(34.90,1.12)],
]

# ---------------- 175E (magenta) ----------------
MAGENTA_PROFILES = [
    [(32.107,-1.20),(32.16,-1.22),(32.22,-1.24),(32.28,-1.27),(32.34,-1.31),(32.40,-1.35),(32.48,-1.38),(32.56,-1.42),(32.64,-1.44),(32.72,-1.47),(32.80,-1.46),(32.90,-1.45),(33.00,-1.42),(33.10,-1.38),(33.20,-1.34),(33.30,-1.29),(33.40,-1.24),(33.50,-1.18),(33.60,-1.12),(33.70,-1.04),(33.80,-0.96),(33.93,-0.84),(34.05,-0.72),(34.18,-0.57),(34.31,-0.40),(34.40,-0.26),(34.47,-0.13),(34.53,0.01),(34.58,0.14),(34.62,0.28),(34.66,0.45),(34.71,0.68),(34.76,0.92),(34.79,1.12)],
    [(32.107,-1.30),(32.15,-1.33),(32.20,-1.38),(32.26,-1.36),(32.32,-1.41),(32.38,-1.38),(32.44,-1.44),(32.50,-1.40),(32.57,-1.47),(32.63,-1.43),(32.70,-1.49),(32.77,-1.45),(32.85,-1.50),(32.93,-1.46),(33.02,-1.44),(33.10,-1.41),(33.20,-1.37),(33.30,-1.32),(33.40,-1.27),(33.50,-1.21),(33.60,-1.14),(33.70,-1.07),(33.80,-0.99),(33.93,-0.87),(34.05,-0.75),(34.18,-0.60),(34.31,-0.43),(34.40,-0.29),(34.47,-0.16),(34.53,-0.02),(34.58,0.11),(34.62,0.26),(34.66,0.43),(34.71,0.66),(34.76,0.90),(34.80,1.12)],
    [(32.107,-1.38),(32.14,-1.42),(32.19,-1.40),(32.24,-1.48),(32.29,-1.44),(32.34,-1.52),(32.40,-1.47),(32.46,-1.55),(32.52,-1.50),(32.58,-1.57),(32.64,-1.52),(32.70,-1.58),(32.76,-1.53),(32.82,-1.56),(32.88,-1.50),(32.95,-1.52),(33.02,-1.47),(33.10,-1.44),(33.20,-1.40),(33.30,-1.35),(33.40,-1.30),(33.50,-1.24),(33.60,-1.17),(33.70,-1.09),(33.80,-1.01),(33.93,-0.90),(34.05,-0.78),(34.18,-0.63),(34.31,-0.46),(34.40,-0.32),(34.47,-0.19),(34.53,-0.05),(34.58,0.08),(34.63,0.24),(34.67,0.41),(34.72,0.64),(34.77,0.88),(34.81,1.12)],
    [(32.107,-1.45),(32.15,-1.50),(32.20,-1.46),(32.25,-1.55),(32.30,-1.51),(32.36,-1.58),(32.42,-1.53),(32.48,-1.60),(32.54,-1.55),(32.60,-1.62),(32.66,-1.56),(32.72,-1.63),(32.78,-1.58),(32.85,-1.62),(32.92,-1.55),(33.00,-1.52),(33.08,-1.48),(33.18,-1.44),(33.28,-1.39),(33.38,-1.33),(33.48,-1.27),(33.58,-1.20),(33.68,-1.12),(33.80,-1.03),(33.93,-0.92),(34.05,-0.80),(34.18,-0.65),(34.31,-0.48),(34.40,-0.35),(34.47,-0.22),(34.53,-0.08),(34.58,0.05),(34.63,0.22),(34.68,0.42),(34.73,0.66),(34.78,0.92),(34.81,1.12)],
    [(32.107,-1.55),(32.16,-1.58),(32.22,-1.54),(32.28,-1.62),(32.34,-1.57),(32.40,-1.64),(32.46,-1.58),(32.52,-1.66),(32.58,-1.60),(32.64,-1.67),(32.70,-1.62),(32.76,-1.65),(32.82,-1.58),(32.88,-1.64),(32.94,-1.57),(33.00,-1.55),(33.10,-1.50),(33.20,-1.46),(33.30,-1.41),(33.40,-1.35),(33.50,-1.29),(33.60,-1.22),(33.70,-1.14),(33.80,-1.06),(33.93,-0.94),(34.05,-0.82),(34.18,-0.67),(34.31,-0.50),(34.40,-0.37),(34.47,-0.24),(34.53,-0.10),(34.58,0.03),(34.63,0.20),(34.68,0.40),(34.73,0.64),(34.78,0.90),(34.82,1.12)],
    [(32.107,-1.48),(32.18,-1.52),(32.26,-1.50),(32.34,-1.56),(32.42,-1.62),(32.50,-1.58),(32.58,-1.64),(32.66,-1.61),(32.74,-1.68),(32.80,-1.63),(32.86,-1.70),(32.92,-1.66),(32.98,-1.62),(33.05,-1.58),(33.12,-1.52),(33.20,-1.48),(33.30,-1.43),(33.40,-1.37),(33.50,-1.31),(33.60,-1.24),(33.67,-1.18),(33.80,-1.04),(33.93,-0.92),(34.05,-0.79),(34.18,-0.64),(34.31,-0.47),(34.40,-0.33),(34.47,-0.18),(34.53,-0.05),(34.58,0.08),(34.62,0.24),(34.67,0.47),(34.72,0.70),(34.77,0.95),(34.80,1.12)],
    [(32.107,-1.25),(32.20,-1.30),(32.30,-1.35),(32.40,-1.37),(32.50,-1.36),(32.60,-1.38),(32.70,-1.40),(32.80,-1.38),(32.90,-1.36),(33.00,-1.33),(33.15,-1.28),(33.30,-1.21),(33.45,-1.12),(33.60,-1.02),(33.75,-0.90),(33.90,-0.78),(34.00,-0.68),(34.118,-0.53),(34.213,-0.42),(34.308,-0.32),(34.40,-0.20),(34.467,-0.10),(34.53,0.05),(34.59,0.24),(34.63,0.42),(34.68,0.66),(34.73,0.90),(34.77,1.12)],
    [(32.107,-1.32),(32.20,-1.28),(32.30,-1.31),(32.40,-1.29),(32.50,-1.32),(32.60,-1.34),(32.70,-1.36),(32.80,-1.35),(32.90,-1.33),(33.00,-1.30),(33.15,-1.24),(33.30,-1.17),(33.45,-1.08),(33.60,-0.99),(33.75,-0.88),(33.90,-0.76),(34.00,-0.67),(34.149,-0.50),(34.25,-0.38),(34.35,-0.27),(34.47,-0.12),(34.55,0.05),(34.59,0.12),(34.63,0.28),(34.68,0.52),(34.73,0.78),(34.77,1.00),(34.79,1.12)],
    [(32.107,-1.60),(32.20,-1.56),(32.30,-1.62),(32.38,-1.55),(32.45,-1.60),(32.52,-1.52),(32.60,-1.58),(32.68,-1.50),(32.75,-1.55),(32.82,-1.48),(32.90,-1.52),(33.00,-1.47),(33.10,-1.45),(33.20,-1.42),(33.30,-1.38),(33.40,-1.32),(33.50,-1.26),(33.60,-1.20),(33.70,-1.13),(33.80,-1.05),(33.95,-0.95),(34.05,-0.87),(34.10,-0.82),(34.15,-0.80),(34.213,-0.776),(34.276,-0.758),(34.308,-0.706),(34.35,-0.72),(34.40,-0.66),(34.435,-0.637),(34.47,-0.58),(34.50,-0.52),(34.52,-0.42),(34.54,-0.36),(34.57,-0.22),(34.60,-0.05),(34.64,0.15),(34.69,0.45),(34.74,0.75),(34.79,1.05),(34.80,1.12)],
    [(33.90,-0.90),(34.00,-0.80),(34.08,-0.72),(34.149,-0.654),(34.22,-0.64),(34.276,-0.62),(34.31,-0.58),(34.34,-0.576),(34.37,-0.60),(34.40,-0.52),(34.43,-0.49),(34.46,-0.42),(34.49,-0.36),(34.52,-0.30),(34.55,-0.20),(34.58,-0.08),(34.61,0.08),(34.65,0.30),(34.70,0.58),(34.75,0.88),(34.78,1.12)],
    [(34.05,-0.75),(34.10,-0.70),(34.15,-0.66),(34.20,-0.60),(34.25,-0.55),(34.30,-0.56),(34.34,-0.48),(34.38,-0.50),(34.42,-0.40),(34.45,-0.42),(34.48,-0.32),(34.51,-0.28),(34.54,-0.15),(34.57,-0.06),(34.60,0.10),(34.64,0.32),(34.69,0.60),(34.74,0.88),(34.78,1.12)],
    [(34.95,-0.56),(34.98,-0.53),(35.01,-0.50)],
]

# ---------------- axis text ----------------
X_TICKS = [32.5, 33, 33.5, 34, 34.5, 35]
X_LABELS = ['32.5', '33', '33.5', '34', '34.5', '35']
Y_TICKS = [1, 0.5, 0, -0.5, -1, -1.5]
Y_LABELS = ['1', '0.5', '0', '-0.5', '-1', '-1.5']
LEGEND_NAMES = ['97E', '126E', '140E', '165E', '175E']
LEGEND_COLORS = ['#000000', '#ff0000', '#0000ff', '#008000', '#660066']

LINE_RED = '#ff2000'
LINE_BLUE = '#2040ff'
LINE_GREEN = '#40e800'
LINE_MAGENTA = '#ff50ff'
LINE_BLACK = '#000000'

W, H = 1739, 1305
fig = plt.figure(figsize=(W / 100, H / 100), dpi=100)
ax = fig.add_axes([178 / W, 129 / H, 1 - 178 / W, 1132 / H])

LW = 1.25
for group, col in [(GREEN_PROFILES, LINE_GREEN), (MAGENTA_PROFILES, LINE_MAGENTA),
                   (BLUE_PROFILES, LINE_BLUE), (RED_PROFILES, LINE_RED),
                   (BLACK_PROFILES, LINE_BLACK)]:
    for prof in group:
        s = [p[0] for p in prof]
        t = [p[1] for p in prof]
        ax.plot(s, t, color=col, lw=LW, solid_joinstyle='round')

ax.set_xlim(32.107, 35.08)
ax.set_ylim(-1.868, 1.082)
for side in ['top', 'right']:
    ax.spines[side].set_visible(False)
for side in ['left', 'bottom']:
    ax.spines[side].set_linewidth(1.5)

ax.set_xticks(X_TICKS)
ax.set_xticklabels(X_LABELS)
ax.set_yticks(Y_TICKS)
ax.set_yticklabels(Y_LABELS)
ax.tick_params(axis='both', direction='in', length=12, width=1.3, labelsize=34)
ax.tick_params(axis='x', pad=14)
ax.tick_params(axis='y', pad=10)
for lab in ax.get_xticklabels() + ax.get_yticklabels():
    lab.set_fontfamily('Liberation Sans')

ax.set_xlabel('Salinity', fontsize=34, family='Liberation Sans')
ax.xaxis.set_label_coords(0.497, -0.0751)
ax.set_ylabel('θ (°C)', fontsize=34, family='Liberation Sans')
ax.yaxis.label.set_va('center')
ax.yaxis.set_label_coords(-0.0849, 0.494)

baselines = [48, 105, 162, 219, 276]
for name, col, b in zip(LEGEND_NAMES, LEGEND_COLORS, baselines):
    fig.text(597 / W, 1 - b / H, name, color=col, fontsize=30, family='Lato',
             ha='left', va='baseline')

fig.savefig('out.png', dpi=100)
